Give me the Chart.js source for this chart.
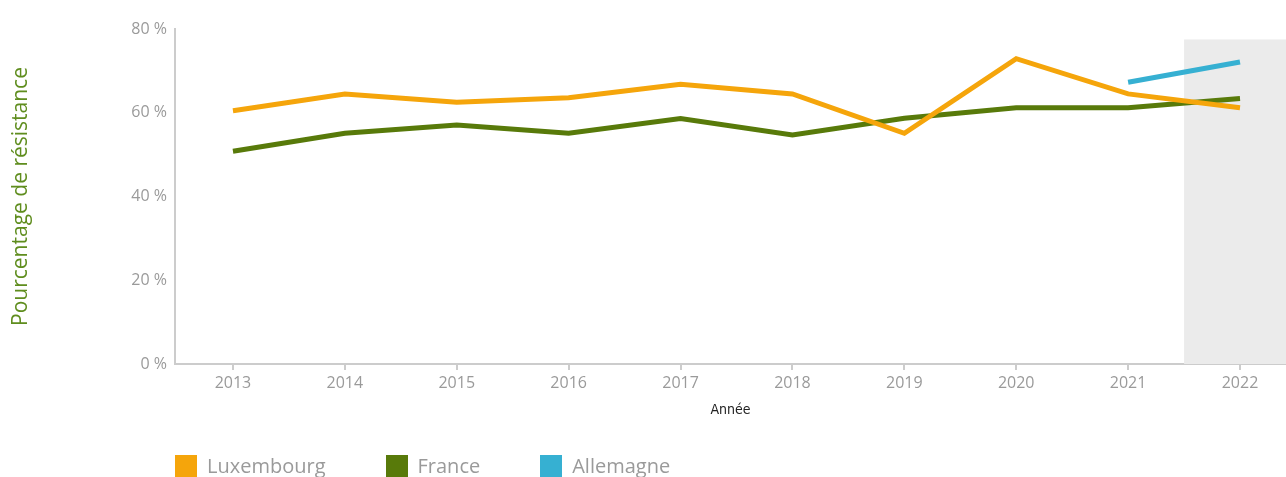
<!DOCTYPE html>
<html lang="fr">
<head>
<meta charset="utf-8">
<title>Pourcentage de résistance</title>
<script src="https://cdn.jsdelivr.net/npm/chart.js@4.4.1/dist/chart.umd.min.js"></script>
<style>
  body { margin: 0; background: #fff; }
  #wrap { position: relative; width: 1286px; height: 477px; overflow: hidden; }
  #legend { position: absolute; left: 175px; top: 455px; display: flex; font-family: "Open Sans", Roboto, sans-serif; }
  .legend-item { display: flex; align-items: center; margin-right: 60px; }
  .legend-box { width: 22px; height: 22px; margin-right: 10px; }
  .legend-text { font-size: 20px; color: #9a9a9a; line-height: 22px; }
</style>
</head>
<body>
<div id="wrap">
  <canvas id="res-canvas"></canvas>
  <div id="legend"></div>
</div>
<script>
  // Years on the x axis
  let years = [2013, 2014, 2015, 2016, 2017, 2018, 2019, 2020, 2021, 2022];

  // Series values (percentage)
  let luxembourg = [60.5, 64.5, 62.5, 63.6, 66.8, 64.5, 55.1, 72.9, 64.5, 61.2];
  let france = [50.8, 55.1, 57.1, 55.1, 58.6, 54.7, 58.7, 61.2, 61.2, 63.4];
  let allemagne = [null, null, null, null, null, null, null, null, 67.3, 72.1];

  let y_ticks = [0, 20, 40, 60, 80];

  // shaded zone (last year)
  let shade_from = 2021.5;
  let shade_top = 77.5;

  let to_points = function(arr) {
    let pts = [];
    for (let i = 0; i < years.length; i++) {
      pts.push({x: years[i], y: arr[i]});
    }
    return pts;
  };

  let shade_plugin = {
    id: 'shade',
    beforeDatasetsDraw: function(chart) {
      let ctx = chart.ctx;
      let xs = chart.scales.x;
      let ys = chart.scales.y;
      let x0 = xs.getPixelForValue(shade_from);
      let y0 = ys.getPixelForValue(shade_top);
      ctx.save();
      ctx.fillStyle = '#ebebeb';
      ctx.fillRect(x0, y0, chart.chartArea.right - x0, chart.chartArea.bottom - y0);
      ctx.restore();
    }
  };

  let main_font = '"Open Sans", Roboto, sans-serif';

  let res_ctx = document.getElementById('res-canvas').getContext('2d');
  let res_chart = new Chart(res_ctx, {
    type: 'line',
    data: {
      datasets: [
        { label: 'Luxembourg', data: to_points(luxembourg), borderColor: '#f5a50b', backgroundColor: '#f5a50b' },
        { label: 'France', data: to_points(france), borderColor: '#587a0a', backgroundColor: '#587a0a' },
        { label: 'Allemagne', data: to_points(allemagne), borderColor: '#36b0d2', backgroundColor: '#36b0d2' }
      ]
    },
    plugins: [shade_plugin],
    options: {
      responsive: true,
      maintainAspectRatio: false,
      animation: false,
      layout: { padding: { top: 29, right: 0, bottom: 58, left: 0 } },
      elements: {
        line: { borderWidth: 5, tension: 0, borderCapStyle: 'butt', borderJoinStyle: 'miter' },
        point: { radius: 0, hoverRadius: 0 }
      },
      plugins: {
        legend: { display: false },
        tooltip: { enabled: false }
      },
      scales: {
        x: {
          type: 'linear',
          min: 2012.482,
          max: 2022.411,
          afterBuildTicks: function(scale) {
            scale.ticks = years.map(function(v) { return {value: v}; });
          },
          afterFit: function(scale) { scale.height = 55; },
          grid: { drawOnChartArea: false, drawTicks: true, tickLength: 6, color: '#cccccc', lineWidth: 2 },
          border: { display: true, color: '#cccccc', width: 2 },
          ticks: {
            padding: 4,
            color: '#9a9a9a',
            font: { family: main_font, size: 16 },
            callback: function(v) { return String(v); }
          },
          title: {
            display: true,
            text: 'Année',
            color: '#222222',
            font: { family: '"DejaVu Sans Condensed", "Liberation Sans Narrow", sans-serif', size: 14 },
            padding: { top: 8, bottom: 0 }
          }
        },
        y: {
          min: 0,
          max: 80,
          afterBuildTicks: function(scale) {
            scale.ticks = y_ticks.map(function(v) { return {value: v}; });
          },
          afterFit: function(scale) { scale.width = 175; },
          grid: { display: true, drawOnChartArea: false, drawTicks: false },
          border: { display: true, color: '#cccccc', width: 2 },
          ticks: {
            padding: 8,
            color: '#9a9a9a',
            font: { family: main_font, size: 16 },
            callback: function(v) { return v + ' %'; }
          },
          title: {
            display: true,
            text: 'Pourcentage de résistance',
            color: '#5f8d1e',
            font: { family: main_font, size: 21 },
            padding: { top: 8, bottom: 0 }
          }
        }
      }
    }
  });

  // html legend built from the datasets
  let legend_div = document.getElementById('legend');
  res_chart.data.datasets.forEach(function(ds) {
    let item = document.createElement('div');
    item.className = 'legend-item';
    let box = document.createElement('span');
    box.className = 'legend-box';
    box.style.background = ds.borderColor;
    let txt = document.createElement('span');
    txt.className = 'legend-text';
    txt.textContent = ds.label;
    item.appendChild(box);
    item.appendChild(txt);
    legend_div.appendChild(item);
  });
</script>
</body>
</html>
